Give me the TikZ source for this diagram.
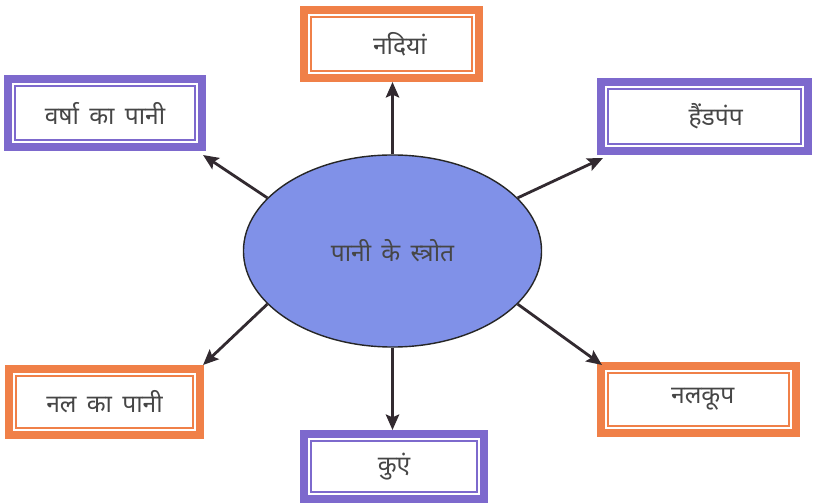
\documentclass[tikz,border=0pt]{standalone}
\usepackage{fontspec}
\newfontfamily\deva[Script=Devanagari,WordSpace=1.6]{Noto Sans}
\usetikzlibrary{shapes,arrows.meta,positioning,calc}

\definecolor{arancio}{RGB}{240,128,72}
\definecolor{viola}{RGB}{125,105,205}
\definecolor{celeste}{RGB}{128,145,232}
\definecolor{testo}{RGB}{70,70,70}
\definecolor{scuro}{RGB}{50,42,48}

\begin{document}
\begin{tikzpicture}[x=0.025cm, y=-0.025cm]
    % Stili
    \tikzset{
        box/.style={rectangle, draw=#1, fill=white, line width=5.7pt, inner sep=0pt, text=testo, font=\deva\fontsize{17.5}{20}\selectfont,
            path picture={\draw[#1, line width=2pt] ([shift={(5pt,-5pt)}]path picture bounding box.north west) rectangle ([shift={(-5pt,5pt)}]path picture bounding box.south east);}},
        sorgente/.style={ellipse, draw=black!85, line width=1pt, fill=celeste, minimum width=7.45cm, minimum height=4.8cm, inner sep=0pt, text=testo, font=\deva\fontsize{17.5}{20}\selectfont},
        freccia/.style={-{Stealth[length=11pt, width=9.5pt, inset=2pt]}, line width=2pt, draw=scuro}
    }
    \useasboundingbox (0,0) rectangle (815,504);

    % Ellisse centrale
    \node[sorgente] (fonte) at (392.5,251) {पानी के स्त्रोत};

    % Riquadri
    \node[box=arancio, minimum width=4.375cm, minimum height=1.7cm] (fiumi) at (391.5,44) {\hspace{12pt}नदियां};
    \node[box=viola, minimum width=4.85cm, minimum height=1.7cm] (pioggia) at (105,113) {वर्षा का पानी};
    \node[box=viola, minimum width=5.175cm, minimum height=1.725cm] (pompa) at (704.5,116.5) {\hspace{16pt}हैंडपंप};
    \node[box=arancio, minimum width=4.775cm, minimum height=1.65cm] (rubinetto) at (104.5,402) {नल का पानी};
    \node[box=arancio, minimum width=4.875cm, minimum height=1.675cm] (tubo) at (698.5,399.5) {\hspace{6pt}नलकूप};
    \node[box=viola, minimum width=4.5cm, minimum height=1.625cm] (pozzo) at (394,466.5) {कुएं};

    % Frecce
    \draw[freccia] (fonte.north) -- (fonte.north |- fiumi.south);
    \draw[freccia] (fonte.157) -- ($(pioggia.south east)+(-3,4)$);
    \draw[freccia] (fonte.23) -- ($(pompa.south west)+(6,3)$);
    \draw[freccia] (fonte.203) -- ($(rubinetto.north east)+(-1,0)$);
    \draw[freccia] (fonte.337) -- ($(tubo.north west)+(5,3)$);
    \draw[freccia] (fonte.south) -- (fonte.south |- pozzo.north);
\end{tikzpicture}
\end{document}
